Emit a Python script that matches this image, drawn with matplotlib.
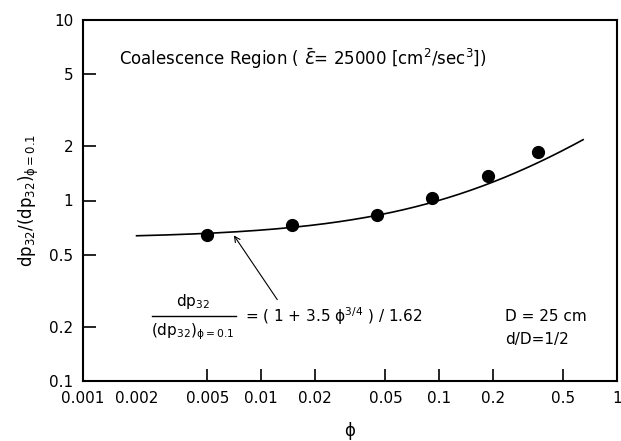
import numpy as np
import matplotlib.pyplot as plt
from matplotlib.ticker import FixedLocator, FixedFormatter, NullLocator

# measured points, coalescence region
phi = [0.005, 0.015, 0.045, 0.091, 0.188, 0.36]
ratio = [0.644, 0.731, 0.83, 1.03, 1.37, 1.86]

# correlation: dp32/(dp32)_phi=0.1 = (1 + 3.5 phi^(3/4)) / 1.62
coef_a = 3.5
coef_n = 0.75
coef_c = 1.62
phi_range = (0.002, 0.645)

x_ticks = [0.001, 0.002, 0.005, 0.01, 0.02, 0.05, 0.1, 0.2, 0.5, 1]
x_labels = ['0.001', '0.002', '0.005', '0.01', '0.02', '0.05', '0.1', '0.2', '0.5', '1']
y_ticks = [0.1, 0.2, 0.5, 1, 2, 5, 10]
y_labels = ['0.1', '0.2', '0.5', '1', '2', '5', '10']

plt.rcParams['font.family'] = ['DejaVu Sans']
plt.rcParams['mathtext.fontset'] = 'dejavusans'

fig = plt.figure(figsize=(6.21, 4.41), dpi=100)
ax = fig.add_axes([83 / 621, 1 - 381 / 441, 534 / 621, 361 / 441])

ax.set_xscale('log')
ax.set_yscale('log')
ax.set_xlim(0.001, 1)
ax.set_ylim(0.1, 10)

xf = np.logspace(np.log10(phi_range[0]), np.log10(phi_range[1]), 200)
ax.plot(xf, (1 + coef_a * xf ** coef_n) / coef_c, color='black', lw=1.2)
ax.plot(phi, ratio, 'o', color='black', markersize=8.5)

ax.xaxis.set_major_locator(FixedLocator(x_ticks))
ax.xaxis.set_major_formatter(FixedFormatter(x_labels))
ax.yaxis.set_major_locator(FixedLocator(y_ticks))
ax.yaxis.set_major_formatter(FixedFormatter(y_labels))
ax.xaxis.set_minor_locator(NullLocator())
ax.yaxis.set_minor_locator(NullLocator())
ax.tick_params(direction='in', length=9, width=1.2, labelsize=11, pad=7)
# no tick marks at the two leftmost labels
for t in ax.xaxis.get_major_ticks()[:2]:
    t.tick1line.set_visible(False)
for s in ax.spines.values():
    s.set_linewidth(1.5)

ax.set_xlabel('ϕ', fontsize=12, labelpad=12)
ax.set_ylabel(r'dp$_{32}$/(dp$_{32}$)$_{\mathrm{ϕ=0.1}}$', fontsize=12, labelpad=6)

ax.text(0.00159, 6.08, r'Coalescence Region ( $\bar{Ɛ}$= 25000 [cm$^2$/sec$^3$])',
        fontsize=12, va='center')

# correlation label with arrow to the curve
ax.annotate('', xy=(0.0069, 0.66), xytext=(0.0126, 0.274),
            arrowprops=dict(arrowstyle='->', color='black', lw=0.8))
ax.text(0.00415, 0.245, r'dp$_{32}$', fontsize=11, ha='center', va='bottom')
ax.plot([0.00244, 0.00724], [0.229, 0.229], color='black', lw=1.0, clip_on=False)
ax.text(0.00415, 0.214, r'(dp$_{32}$)$_{\mathrm{ϕ=0.1}}$', fontsize=11, ha='center', va='top')
ax.text(0.00813, 0.229, r'= ( 1 + 3.5 ϕ$^{3/4}$ ) / 1.62', fontsize=11, va='center')

ax.text(0.235, 0.228, 'D = 25 cm', fontsize=11, va='center')
ax.text(0.235, 0.169, 'd/D=1/2', fontsize=11, va='center')

fig.savefig('out.png', dpi=100)
